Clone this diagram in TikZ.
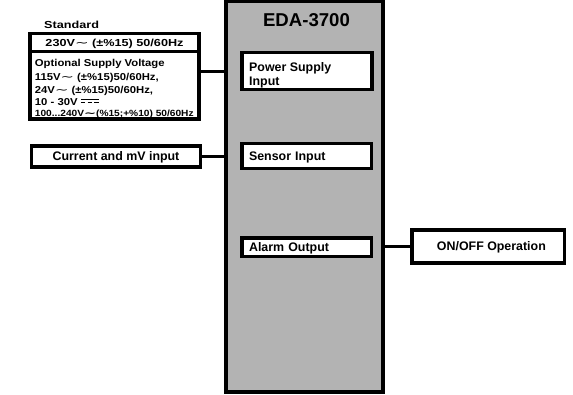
\documentclass[tikz,border=0pt]{standalone}
\usepackage{fontspec}
\setmainfont{Liberation Sans}
\newfontfamily\wideA{Liberation Sans}[FakeStretch=1.24]
\newfontfamily\wideB{Liberation Sans}[FakeStretch=1.13]
\newfontfamily\wavefont{DejaVu Sans}[FakeStretch=1.6]
\definecolor{panel}{RGB}{179,179,179}
\newcommand\acwave{{\wavefont\mdseries ∼}}
\newcommand\acwavebold{{\wavefont\bfseries ∼}}
\newcommand\dcsym{\makebox[18pt][l]{\rule[5.7pt]{18pt}{0.8pt}\hspace{-18pt}\rule[3pt]{4.5pt}{0.8pt}\hspace{2.25pt}\rule[3pt]{4.5pt}{0.8pt}\hspace{2.25pt}\rule[3pt]{4.5pt}{0.8pt}}}
\tikzset{
  box/.style={draw=black, line width=3.2pt, fill=white, inner sep=0pt,
    text height=8.9pt, text depth=0pt, font=\fontsize{12.4}{14}\selectfont\bfseries},
  leftbox/.style={box, inner xsep=7pt, text width=#1, align=left},
  conn/.style={draw=black, line width=3.2pt},
  lbl/.style={inner sep=0pt}
}
\begin{document}
\begin{tikzpicture}[x=1pt,y=-1pt]
\useasboundingbox (0,0) rectangle (573,394);
% main unit
\node[draw=black, line width=3.2pt, fill=panel, minimum width=157pt, minimum height=390.5pt, inner sep=0pt] (main) at (304.5,196.75) {};
\node[lbl, anchor=base, font=\fontsize{18.6}{20}\selectfont\bfseries] (title) at (306.5,26.7) {EDA-3700};
% inner blocks
\node[box, minimum width=130pt, minimum height=37pt] (psu) at (307,71.2) {};
\node[lbl, anchor=north west, align=left, font=\fontsize{12.4}{12.6}\selectfont\bfseries] (psutxt) at (249,62.6) {Power Supply\\[1.5pt]Input};
\node[leftbox=115.3pt, minimum height=25pt] (sensor) at (306.7,156.2) {Sensor Input};
\node[leftbox=115.3pt, minimum height=18.3pt] (alarm) at (306.7,247.2) {Alarm Output};
% left side
\node[lbl, anchor=base west, font=\wideA\bfseries\fontsize{10.2}{12}\selectfont] (stdlbl) at (44,28.7) {Standard};
\node[box, minimum width=169pt, minimum height=17.8pt, text height=7.3pt, font=\wideA\bfseries\fontsize{10.2}{12}\selectfont] (std) at (114.5,42.4) {230V\acwave{} (±\%15) 50/60Hz};
\node[box, minimum width=169pt, minimum height=67.7pt] (opt) at (114.5,85.15) {};
\node[lbl, anchor=north west, align=left, font=\wideB\bfseries\fontsize{10}{13.4}\selectfont] (opttxt) at (34.7,59.3)
  {Optional Supply Voltage\\
   115V\acwave{} (±\%15)50/60Hz,\\
   24V\acwave{} (±\%15)50/60Hz,\\[-1.4pt]
   10 - 30V \dcsym\\[-2.8pt]
   {\fontsize{9}{10}\selectfont 100...240V\acwavebold(\%15;+\%10) 50/60Hz}};
\node[box, minimum width=169.4pt, minimum height=21pt] (cur) at (116,156.5) {Current and mV input};
% right side
\node[box, minimum width=152.7pt, minimum height=33pt] (onoff) at (488.4,246.5) {\hspace{6pt}ON/OFF Operation};
% connectors
\draw[conn] (opt.east |- psu.west) -- (main.west |- psu.west);
\draw[conn] (cur.east) -- (main.west |- cur.east);
\draw[conn] (main.east |- onoff.west) -- (onoff.west);
\end{tikzpicture}
\end{document}
